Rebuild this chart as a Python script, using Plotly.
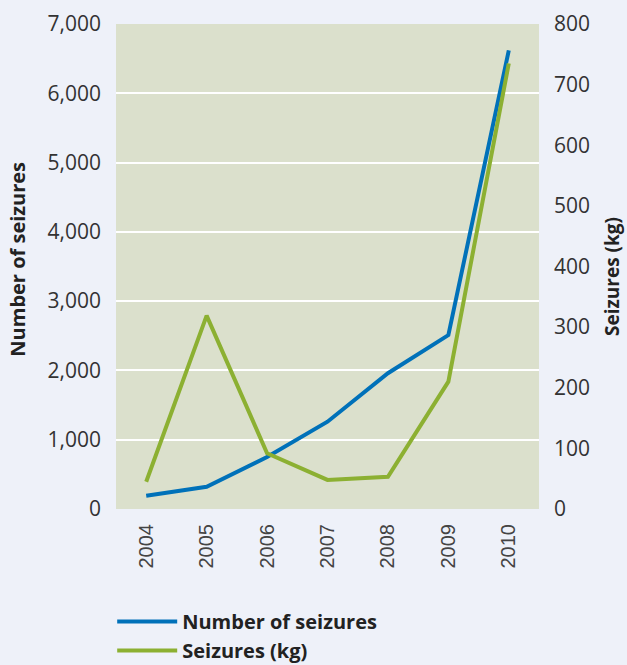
import plotly.graph_objects as go

years = ["2004", "2005", "2006", "2007", "2008", "2009", "2010"]
num_seizures = [190, 320, 750, 1260, 1960, 2510, 6620]
seizures_kg = [45, 319, 92, 48, 53, 210, 735]

BLUE = "#0071b9"
GREEN = "#8cb032"
BG = "#eef1f9"
FONT = "Open Sans, Noto Sans, sans-serif"
TXT = "#333333"

fig = go.Figure()
fig.add_trace(go.Scatter(x=years, y=num_seizures, name="Number of seizures",
                         mode="lines", line=dict(color=BLUE, width=4), yaxis="y"))
fig.add_trace(go.Scatter(x=years, y=seizures_kg, name="Seizures (kg)",
                         mode="lines", line=dict(color=GREEN, width=4), yaxis="y2"))

fig.update_layout(
    width=627, height=665,
    margin=dict(l=116, r=88, t=24, b=156, autoexpand=False),
    paper_bgcolor=BG,
    plot_bgcolor="#dbe0cc",
    font=dict(family=FONT, color=TXT, size=21),
    showlegend=True,
    legend=dict(orientation="v", x=-0.009, y=-0.192, xanchor="left", yanchor="top",
                bgcolor="rgba(0,0,0,0)", tracegroupgap=0, itemwidth=60,
                font=dict(size=20, color="#222222", family=FONT, weight="bold")),
    xaxis=dict(type="category", range=[-0.5, 6.5], showgrid=False, zeroline=False,
               tickangle=-90, ticks="", ticklabelstandoff=10,
               tickfont=dict(size=20, color="#444444", family="Liberation Sans, Arial, sans-serif"),
               showline=False),
    yaxis=dict(range=[0, 7000], dtick=1000, tickformat=",d", showgrid=True,
               gridcolor="white", gridwidth=2, zeroline=False, ticks="",
               ticklabelstandoff=14, tickfont=dict(size=21, color=TXT)),
    yaxis2=dict(range=[0, 800], dtick=100, overlaying="y", side="right",
                showgrid=False, zeroline=False, ticks="", ticklabelstandoff=14,
                tickfont=dict(size=21, color=TXT)),
    annotations=[
        dict(text="<b>Number of seizures</b>", xref="paper", yref="paper",
             x=-0.233, y=0.515, xanchor="center", yanchor="middle", textangle=-90,
             showarrow=False, font=dict(size=20, color="#222222")),
        dict(text="<b>Seizures (kg)</b>", xref="paper", yref="paper",
             x=1.172, y=0.48, xanchor="center", yanchor="middle",
             textangle=-90, showarrow=False, font=dict(size=19, color="#222222")),
    ],
)

fig.write_html(
    "out.html",
    config={"displayModeBar": False},
    post_script="document.body.style.margin='0';document.body.style.background='%s';" % BG,
)
